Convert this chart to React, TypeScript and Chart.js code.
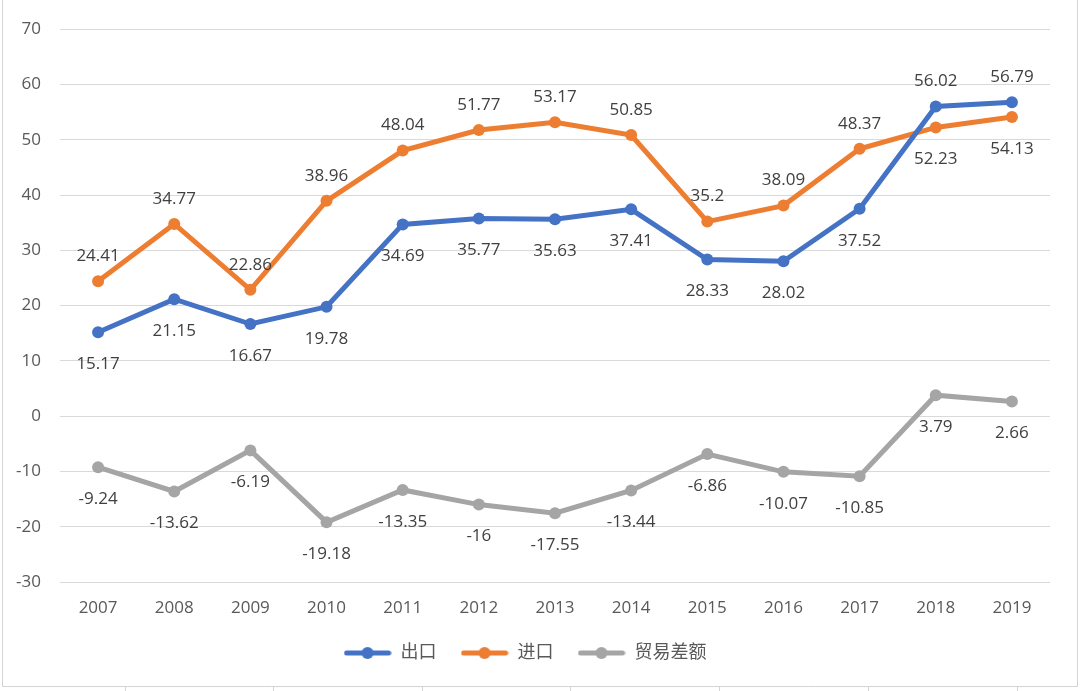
import React, { useEffect, useRef } from "react";
import { Chart, registerables } from "chart.js";

Chart.register(...registerables);

const years = ["2007", "2008", "2009", "2010", "2011", "2012", "2013", "2014", "2015", "2016", "2017", "2018", "2019"];
const exportVals = [15.17, 21.15, 16.67, 19.78, 34.69, 35.77, 35.63, 37.41, 28.33, 28.02, 37.52, 56.02, 56.79];
const importVals = [24.41, 34.77, 22.86, 38.96, 48.04, 51.77, 53.17, 50.85, 35.2, 38.09, 48.37, 52.23, 54.13];
const balanceVals = [-9.24, -13.62, -6.19, -19.18, -13.35, -16, -17.55, -13.44, -6.86, -10.07, -10.85, 3.79, 2.66];
const seriesNames = ["出口", "进口", "贸易差额"];
const seriesColors = ["#4472C4", "#ED7D31", "#A5A5A5"];
// label placement per series: "below" or "above", per point
const exportPos = ["below", "below", "below", "below", "below", "below", "below", "below", "below", "below", "below", "above", "above"];
const importPos = ["above", "above", "above", "above", "above", "above", "above", "above", "above", "above", "above", "below", "below"];
const balancePos = ["below", "below", "below", "below", "below", "below", "below", "below", "below", "below", "below", "below", "below"];

const FONT = "'Open Sans', 'Noto Sans CJK SC', sans-serif";

function makeMarker(color: string): HTMLCanvasElement {
  const c = document.createElement("canvas");
  c.width = 48;
  c.height = 14;
  const ctx = c.getContext("2d")!;
  ctx.strokeStyle = color;
  ctx.lineWidth = 5;
  ctx.lineCap = "round";
  ctx.beginPath();
  ctx.moveTo(3, 7);
  ctx.lineTo(45, 7);
  ctx.stroke();
  ctx.fillStyle = color;
  ctx.beginPath();
  ctx.arc(24, 7, 6, 0, Math.PI * 2);
  ctx.fill();
  return c;
}

const labelPlugin = {
  id: "valueLabels",
  afterDatasetsDraw(chart: any) {
    const ctx = chart.ctx;
    const positions = [exportPos, importPos, balancePos];
    ctx.save();
    ctx.font = `17px ${FONT}`;
    ctx.fillStyle = "#404040";
    ctx.textAlign = "center";
    ctx.textBaseline = "middle";
    chart.data.datasets.forEach((ds: any, di: number) => {
      const meta = chart.getDatasetMeta(di);
      meta.data.forEach((pt: any, i: number) => {
        const pos = positions[di][i];
        const dy = pos === "below" ? 32 : -25;
        ctx.fillText(String(ds.data[i]), pt.x, pt.y + dy);
      });
    });
    ctx.restore();
  },
};

const framePlugin = {
  id: "frame",
  afterDraw(chart: any) {
    const ctx = chart.ctx;
    ctx.save();
    ctx.strokeStyle = "#d4d4d4";
    ctx.lineWidth = 1;
    ctx.beginPath();
    ctx.moveTo(2.5, 0);
    ctx.lineTo(2.5, 686.5);
    ctx.lineTo(1077.5, 686.5);
    ctx.lineTo(1077.5, 0);
    const cols = [125, 273, 422, 570, 719, 868, 1017];
    cols.forEach((x) => {
      ctx.moveTo(x + 0.5, 686);
      ctx.lineTo(x + 0.5, 691);
    });
    ctx.stroke();
    ctx.restore();
  },
};

export default function App() {
  const ref = useRef<HTMLCanvasElement | null>(null);
  useEffect(() => {
    if (!ref.current) return;
    const data = [exportVals, importVals, balanceVals];
    const markers = seriesColors.map(makeMarker);
    const chart = new Chart(ref.current, {
      type: "line",
      data: {
        labels: years,
        datasets: data.map((d, i) => ({
          label: seriesNames[i],
          data: d,
          borderColor: seriesColors[i],
          backgroundColor: seriesColors[i],
          borderWidth: 5,
          pointRadius: 6,
          pointBackgroundColor: seriesColors[i],
          pointBorderColor: seriesColors[i],
          pointBorderWidth: 0,
          tension: 0,
          fill: false,
        })),
      },
      options: {
        responsive: false,
        animation: false,
        layout: { padding: { left: 0, right: 30, top: 28, bottom: 19 } },
        plugins: {
          tooltip: { enabled: false },
          legend: {
            position: "bottom",
            labels: {
              usePointStyle: true,
              pointStyleWidth: 48,
              padding: 24,
              color: "#595959",
              font: { size: 18, family: FONT },
              generateLabels: (chart: any) =>
                chart.data.datasets.map((ds: any, i: number) => ({
                  text: ds.label,
                  fillStyle: seriesColors[i],
                  strokeStyle: seriesColors[i],
                  lineWidth: 0,
                  pointStyle: markers[i],
                  fontColor: "#595959",
                  datasetIndex: i,
                  hidden: false,
                })),
            },
          },
        },
        scales: {
          x: {
            offset: true,
            grid: { display: false, drawTicks: false },
            border: { display: false },
            ticks: { color: "#595959", font: { size: 17, family: FONT }, padding: 16 },
            afterFit: (s: any) => {
              s.height = 38;
            },
          },
          y: {
            min: -30,
            max: 70,
            ticks: { stepSize: 10, color: "#595959", font: { size: 17, family: FONT }, padding: 19 },
            grid: { color: "#d9d9d9", lineWidth: 1, drawTicks: false },
            border: { display: false },
            afterFit: (s: any) => {
              s.width = 60;
            },
          },
        },
      },
      plugins: [labelPlugin, framePlugin],
    });
    return () => chart.destroy();
  }, []);
  return (
    <div style={{ position: "fixed", left: 0, top: 0, width: 1080, height: 691, background: "#fff" }}>
      <canvas ref={ref} width={1080} height={691} style={{ width: 1080, height: 691, display: "block" }} />
    </div>
  );
}
